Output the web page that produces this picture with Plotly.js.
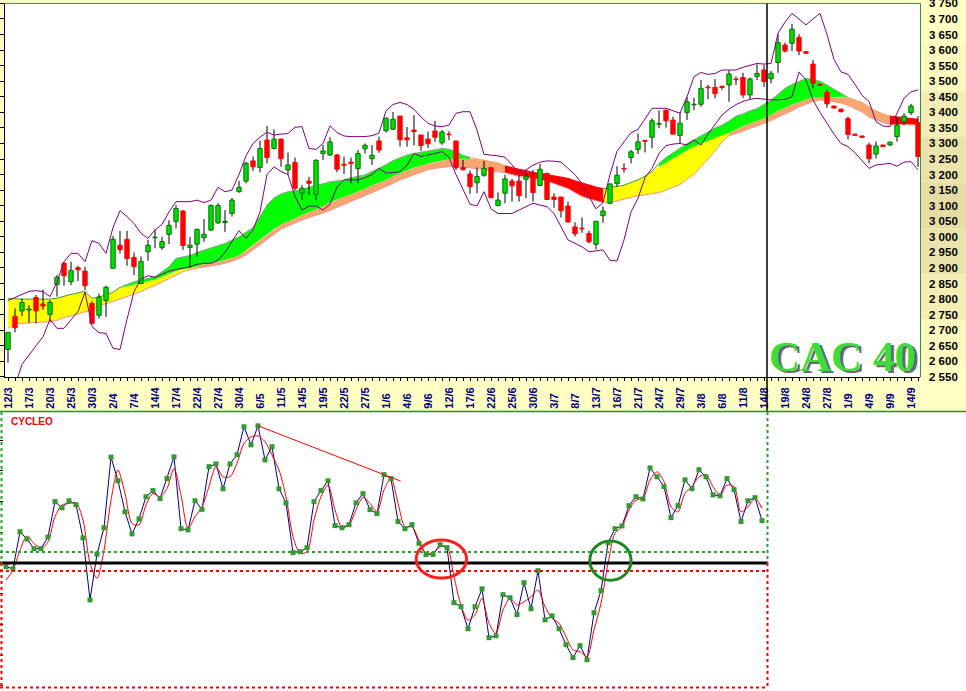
<!DOCTYPE html>
<html><head><meta charset="utf-8">
<script src="https://cdn.plot.ly/plotly-3.0.1.min.js"></script>
<style>html,body{margin:0;padding:0;background:#fff;}#chart{width:966px;height:691px;}</style>
</head><body><div id="chart"></div>
<script>
// ---------------- DATA ----------------
const dateLabels = ['12/3','17/3','20/3','25/3','30/3','2/4','7/4','14/4','17/4','22/4','27/4','30/4','6/5','11/5','14/5','19/5','22/5','27/5','1/6','4/6','9/6','12/6','17/6','22/6','25/6','30/6','3/7','8/7','13/7','16/7','21/7','24/7','29/7','3/8','6/8','11/8','14/8','19/8','24/8','27/8','1/9','4/9','9/9','14/9'];
const dateLabelDay = [0,3,6,9,12,15,18,21,24,27,30,33,36,39,42,45,48,51,54,57,60,63,66,69,72,75,78,81,84,87,90,93,96,99,102,105,108,111,114,117,120,123,126,129];
const yTickValues = [2550,2600,2650,2700,2750,2800,2850,2900,2950,3000,3050,3100,3150,3200,3250,3300,3350,3400,3450,3500,3550,3600,3650,3700,3750];
const yTickLabels = ['2 550','2 600','2 650','2 700','2 750','2 800','2 850','2 900','2 950','3 000','3 050','3 100','3 150','3 200','3 250','3 300','3 350','3 400','3 450','3 500','3 550','3 600','3 650','3 700','3 750'];

const openP = [2638,2745,2762,2765,2805,2784,2751,2847,2915,2856, 2901,2890,2786,2748,2795,2899,2973,2992,2934,2850, 2952,2997,2965,3008,3049,3083,2966,2976,2997,3022, 3045,3046,3075,3145,3179,3244,3223,3311,3284,3314, 3215,3239,3140,3179,3136,3268,3263,3263,3233,3240, 3219,3283,3251,3308,3341,3346,3388,3318,3343,3327, 3314,3340,3302,3330,3308,3223,3202,3174,3198,3222, 3100,3140,3179,3179,3185,3199,3165,3204,3128,3128, 3099,3032,3028,3011,2976,3068,3108,3171,3220,3255, 3281,3310,3320,3362,3407,3375,3326,3399,3424,3426, 3481,3480,3484,3488,3507,3512,3456,3515,3536,3508, 3560,3616,3622,3641,3595,3555,3490,3464,3420,3410, 3380,3330,3324,3295,3266,3295,3295,3322,3370,3399,3367];
const highP = [2693,2770,2802,2781,2813,2831,2797,2877,2920,2920, 2907,2904,2794,2818,2843,3003,3019,3019,2950,2937, 2990,3024,3000,3054,3102,3086,3000,3027,3057,3104, 3108,3086,3125,3180,3241,3258,3309,3356,3345,3316, 3271,3255,3166,3193,3249,3295,3320,3266,3258,3255, 3279,3300,3295,3322,3384,3401,3388,3353,3391,3327, 3338,3372,3343,3339,3308,3247,3213,3223,3244,3223, 3143,3199,3186,3199,3206,3215,3234,3204,3140,3128, 3113,3047,3062,3020,3050,3097,3172,3227,3236,3279, 3332,3311,3381,3406,3407,3386,3399,3450,3447,3504, 3488,3507,3485,3536,3515,3527,3512,3554,3552,3533, 3651,3624,3684,3651,3597,3568,3492,3472,3422,3412, 3386,3331,3325,3302,3306,3296,3306,3386,3397,3427,3388];
const lowP = [2596,2693,2745,2724,2722,2765,2727,2808,2843,2845, 2858,2829,2722,2738,2743,2899,2947,2907,2877,2850, 2923,2963,2958,2977,3027,2958,2901,2936,2984,3019, 3041,3016,3065,3142,3172,3212,3207,3236,3281,3225, 3199,3150,3118,3134,3118,3247,3260,3208,3202,3172, 3172,3268,3231,3270,3335,3343,3290,3290,3294,3276, 3285,3305,3296,3311,3215,3213,3138,3140,3193,3124, 3100,3108,3113,3113,3124,3113,3163,3120,3094,3062, 3045,3001,3013,2979,2960,3045,3105,3161,3206,3236, 3266,3271,3284,3349,3351,3330,3300,3375,3407,3418, 3442,3445,3472,3434,3488,3447,3442,3504,3482,3493, 3527,3592,3597,3584,3588,3477,3485,3415,3412,3400, 3313,3325,3319,3236,3252,3289,3293,3306,3359,3391,3225];
const closeP = [2693,2708,2789,2768,2762,2778,2790,2870,2875,2892, 2894,2843,2722,2806,2838,2992,2959,2930,2904,2921, 2973,2999,2985,3037,3091,2972,2973,3024,3008,3101, 3101,3050,3118,3159,3236,3225,3284,3255,3314,3251, 3231,3156,3156,3172,3246,3276,3305,3217,3230,3236, 3268,3294,3262,3279,3381,3378,3312,3312,3338,3293, 3299,3320,3337,3328,3222,3216,3161,3194,3220,3126, 3118,3186,3164,3132,3194,3142,3217,3120,3120,3084, 3048,3010,3026,2984,3050,3083,3170,3198,3218,3273, 3305,3307,3373,3364,3373,3330,3365,3434,3426,3477, 3479,3460,3480,3523,3505,3456,3507,3525,3499,3525, 3624,3597,3667,3597,3590,3493,3487,3427,3414,3402, 3329,3326,3320,3251,3292,3290,3304,3359,3388,3420,3258];

const bollUpper = [2795,2804,2815,2825,2827,2824,2808,2855,2920,2947, 2947,2920,2988,2979,2947,3030,3084,3065,3043,3011, 2995,3022,3040,3080,3113,3113,3113,3118,3110,3118, 3159,3145,3150,3200,3260,3300,3320,3336,3327,3330, 3332,3352,3354,3284,3281,3300,3357,3335,3324,3322, 3322,3322,3325,3333,3405,3425,3432,3425,3410,3385, 3365,3356,3354,3359,3397,3402,3402,3343,3265,3263, 3260,3256,3230,3206,3215,3230,3240,3244,3243,3240, 3220,3200,3170,3130,3090,3110,3200,3275,3305,3335, 3345,3380,3413,3413,3413,3405,3397,3450,3515,3528, 3522,3525,3536,3536,3536,3545,3552,3557,3555,3557, 3654,3690,3718,3700,3681,3700,3718,3650,3570,3530, 3522,3490,3455,3435,3370,3356,3354,3397,3445,3466,3472];
const bollLower = [2470,2520,2590,2622,2650,2679,2735,2706,2706,2733, 2760,2822,2712,2692,2690,2642,2638,2735,2824,2865, 2875,2870,2880,2890,2895,2900,2904,2912,2915,2915, 2925,2950,2985,3020,2995,3022,3080,3200,3225,3210, 3200,3130,3086,3099,3099,3086,3105,3160,3183,3183, 3183,3190,3200,3220,3205,3207,3209,3230,3268,3258, 3262,3268,3274,3255,3200,3150,3105,3099,3145,3090, 3075,3075,3075,3086,3097,3108,3102,3097,3075,3030, 2990,2979,2968,2952,2955,2958,2925,2922,2990,3080, 3124,3190,3220,3268,3293,3298,3300,3295,3311,3295, 3330,3360,3391,3410,3425,3435,3442,3445,3442,3440, 3440,3442,3450,3530,3504,3440,3400,3365,3330,3300, 3290,3270,3245,3220,3231,3234,3236,3227,3240,3242,3215];

const cloudTop = [2802,2800,2800,2800,2800,2800,2800,2803,2810,2815, 2820,2825,2802,2808,2813,2822,2838,2847,2856,2861, 2866,2872,2888,2904,2931,2936,2940,2950,2957,2963, 2970,2979,2990,3000,3015,3030,3065,3102,3125,3138, 3145,3148,3152,3159,3165,3170,3177,3180,3183,3190, 3195,3199,3210,3220,3232,3245,3255,3263,3268,3272, 3277,3280,3284,3281,3274,3262,3255,3250,3246,3242, 3238,3228,3222,3217,3213,3207,3204,3200,3197,3192, 3188,3180,3173,3165,3160,3155,3158,3162,3166,3175, 3183,3195,3210,3236,3255,3270,3285,3300,3312,3325, 3338,3350,3359,3372,3388,3395,3405,3412,3425,3440, 3458,3477,3490,3500,3509,3506,3500,3488,3475,3460, 3448,3440,3432,3418,3405,3395,3388,3386,3384,3382,3378];
const cloudMid = [2802,2800,2800,2800,2800,2800,2800,2803,2810,2815, 2820,2825,2802,2808,2813,2822,2836,2842,2848,2852, 2857,2862,2872,2880,2890,2896,2899,2905,2912,2916, 2920,2925,2932,2940,2955,2972,2990,3008,3025,3040, 3050,3060,3070,3080,3090,3098,3110,3120,3129,3137, 3145,3155,3166,3175,3183,3195,3204,3213,3223,3230, 3236,3241,3246,3249,3252,3252,3250,3250,3246,3242, 3238,3228,3222,3217,3213,3207,3204,3200,3197,3192, 3188,3180,3173,3165,3160,3155,3158,3162,3166,3175, 3183,3195,3210,3225,3238,3250,3265,3278,3290,3300, 3308,3318,3327,3334,3345,3355,3365,3372,3380,3392, 3405,3415,3425,3434,3442,3448,3450,3450,3450,3450, 3448,3440,3432,3418,3405,3395,3388,3386,3384,3382,3378];
const cloudBot = [2706,2720,2722,2724,2725,2726,2727,2732,2740,2746, 2752,2758,2765,2778,2786,2794,2800,2808,2815,2825, 2834,2843,2855,2866,2876,2888,2895,2900,2904,2906, 2910,2915,2922,2930,2942,2958,2975,2990,3008,3025, 3035,3045,3054,3062,3070,3076,3085,3095,3104,3114, 3124,3133,3142,3152,3161,3172,3183,3191,3199,3208, 3216,3220,3224,3226,3228,3225,3222,3220,3217,3214, 3210,3206,3200,3194,3191,3188,3184,3179,3172,3163, 3155,3142,3130,3122,3116,3110,3110,3116,3120,3127, 3132,3135,3138,3142,3150,3160,3168,3185,3200,3225, 3250,3275,3305,3325,3332,3340,3348,3357,3365,3373, 3385,3395,3405,3418,3427,3435,3440,3438,3434,3430, 3423,3412,3402,3385,3375,3367,3360,3360,3362,3362,3360];
// cloud regimes: Y = yellow band, GY = green over yellow, GS = green over salmon, S = salmon, R = red
const regimeStart = [0,16,27,66,71,85,93,103,120,126];
const regimeType  = ['Y','GY','GS','S','R','Y','GY','GS','S','R'];

// CYCLEO oscillator (one value per trading day, up to 14/8)
const cycleo = [-1.2,-1.85,10.2,7.8,4.7,4.7,8.5,20,18,20.3, 19,8.2,-12,2.9,11.5,34.5,26.8,16.7,9.5,14.4, 21.6,23.6,21,27.5,34.6,11.2,10.8,20.3,17.5,31.4, 32.3,24.2,32.3,35.3,44.4,38.5,44.7,33.6,37.9,24.2, 19.6,3.4,3.7,5.0,20,23.6,26.8,12.2,11.5,12.5, 19.6,22.6,17.4,16.1,28.8,27.5,13.5,11.2,12.5,6.4, 2.8,2.8,6.0,5.0,-12.9,-14.2,-21.4,-14.2,-8.4,-24.3, -23.7,-10.3,-11.3,-16.8,-6.4,-14.9,-2.5,-18.5,-17.2,-21.4, -26.6,-30.8,-26.9,-31.5,-16.2,-9.0,6.6,11.2,12.1,18.7, 21.6,20.9,31.0,28.1,24.9,14.8,18.7,27.1,24.2,30.4, 28.1,22.2,21.9,27.5,23.9,13.5,20.3,21.3,13.8];
const cycleoSignal = [-5.5,-2.3,4.2,8.8,6.4,4.8,6.9,15.1,18.9,19.4, 19.6,14,0,-5,4.2,20.5,30.3,22.7,12.9,12.4, 18.9,22.7,21.6,24.3,30.8,22.1,11.3,15.1,18.3,24.9, 31.4,28.1,28.1,32.5,39,41.1,41.4,39.5,35.2,30.3, 21.6,8.6,3.2,3.7,14,21.6,25.4,17.3,11.6,12.4, 17.3,21.4,19.4,16.7,23.8,27.6,19.5,11.8,11.8,7.5, 3.2,3.2,5.3,5.3,-4.5,-13.7,-18.6,-16.9,-11.5,-19.6, -22.9,-15.3,-11.5,-13.7,-12.6,-11,-8.8,-14.2,-18,-19.6, -24,-28.3,-28.9,-30.5,-21.8,-13.1,-0.1,9.7,11.8,17.3, 20.5,21.1,27,29.7,26.5,18.3,16.7,22.7,24.9,28.1, 28.7,24.9,22.1,25.4,24.9,16.7,18.3,21.1,17.8];
const upperThreshold = 3.6;
const lowerThreshold = -2.6;
const trendAnchors = [36, 54];   // peaks joined by the drawn resistance line
const trendEndDay = 56.4;
const sellCircle = [58.6, 65.8, -4.9, 7.5];  // day range, value range
const buyCircle  = [83.4, 89.3, -5.6, 7.2];
const markerDayLabel = '14/8';

// ---------------- BUILD ----------------
const W = 966, H = 691;
const px = p => p / W, py = p => 1 - p / H;
const days = openP.map((_, i) => i);
const traces = [];

// Cloud (base subplot)
const fillColor = {Y:'#FFFF00', S:'#F6A66E', R:'#FF0000'};
const topLineColor = {Y:'#3E9E3E', GY:'#9A9A9A', GS:'#9A9A9A', S:'#F6A66E', R:'#FF0000'};
for (let r = 0; r < regimeStart.length; r++) {
  const s = regimeStart[r];
  const e = r + 1 < regimeStart.length ? regimeStart[r + 1] : days.length - 1;
  const xs = [], xsRev = [];
  for (let i = s; i <= e; i++) xs.push(i);
  for (let i = e; i >= s; i--) xsRev.push(i);
  const t = regimeType[r];
  const lowerCol = t === 'GY' ? fillColor.Y : t === 'GS' ? fillColor.S : fillColor[t];
  traces.push({type:'scatter', mode:'lines', x: xs.concat(xsRev),
    y: xs.map(i => cloudMid[i]).concat(xsRev.map(i => cloudBot[i])),
    fill:'toself', fillcolor: lowerCol, line:{width:0}, hoverinfo:'skip', xaxis:'x', yaxis:'y'});
  if (t === 'GY' || t === 'GS') {
    traces.push({type:'scatter', mode:'lines', x: xs.concat(xsRev),
      y: xs.map(i => cloudTop[i]).concat(xsRev.map(i => cloudMid[i])),
      fill:'toself', fillcolor:'#00FF00', line:{width:0}, hoverinfo:'skip', xaxis:'x', yaxis:'y'});
  }
  traces.push({type:'scatter', mode:'lines', x: xs, y: xs.map(i => cloudTop[i]),
    line:{color: topLineColor[t], width:1}, hoverinfo:'skip', xaxis:'x', yaxis:'y'});
}
traces.push({type:'scatter', mode:'lines', x: days, y: cloudBot,
  line:{color:'#FF8C8C', width:1}, hoverinfo:'skip', xaxis:'x', yaxis:'y'});

// Wicks (overlay y3)
const wx = [], wy = [];
days.forEach(i => { wx.push(i, i, null); wy.push(lowP[i], highP[i], null); });
traces.push({type:'scatter', mode:'lines', x: wx, y: wy, line:{color:'#000000', width:1},
  hoverinfo:'skip', xaxis:'x', yaxis:'y3'});

// Bodies (overlay y4)
const upIdx = days.filter(i => closeP[i] >= openP[i]);
const dnIdx = days.filter(i => closeP[i] < openP[i]);
traces.push({type:'bar', x: upIdx, base: upIdx.map(i => openP[i]), y: upIdx.map(i => closeP[i] - openP[i]),
  width: 0.62, marker:{color:'#00E000', line:{color:'#007000', width:1}}, hoverinfo:'skip', xaxis:'x', yaxis:'y4'});
traces.push({type:'bar', x: dnIdx, base: dnIdx.map(i => closeP[i]), y: dnIdx.map(i => openP[i] - closeP[i]),
  width: 0.62, marker:{color:'#FF0000', line:{color:'#FF0000', width:1}}, hoverinfo:'skip', xaxis:'x', yaxis:'y4'});

// Bollinger envelopes
traces.push({type:'scatter', mode:'lines', x: days, y: bollUpper, line:{color:'#800080', width:1}, hoverinfo:'skip', xaxis:'x', yaxis:'y4'});
traces.push({type:'scatter', mode:'lines', x: days, y: bollLower, line:{color:'#800080', width:1}, hoverinfo:'skip', xaxis:'x', yaxis:'y4'});

// Oscillator panel
const k = cycleo.map((_, i) => i);
traces.push({type:'scatter', mode:'lines', x: k, y: cycleo, line:{color:'#000080', width:1}, hoverinfo:'skip', xaxis:'x2', yaxis:'y2'});
traces.push({type:'scatter', mode:'lines', x: k, y: cycleoSignal, line:{color:'#FF0000', width:1, shape:'spline', smoothing:0.8}, hoverinfo:'skip', xaxis:'x2', yaxis:'y2'});
traces.push({type:'scatter', mode:'markers', x: k, y: cycleo, marker:{symbol:'square', size:5, color:'#339933'}, hoverinfo:'skip', xaxis:'x2', yaxis:'y2'});
const slope = (cycleo[trendAnchors[1]] - cycleo[trendAnchors[0]]) / (trendAnchors[1] - trendAnchors[0]);
traces.push({type:'scatter', mode:'lines', x:[trendAnchors[0], trendEndDay],
  y:[cycleo[trendAnchors[0]], cycleo[trendAnchors[0]] + slope * (trendEndDay - trendAnchors[0])],
  line:{color:'#FF0000', width:1}, hoverinfo:'skip', xaxis:'x2', yaxis:'y2'});

// ---------------- LAYOUT ----------------
const fontB = (size, color) => ({family:'Liberation Sans, Arial, sans-serif', size, color, weight:700});
const tickText = dateLabels.map(s => s.length < 4 ? s + '\u2007' : s);
const markerDay = dateLabelDay[dateLabels.indexOf(markerDayLabel)] + 0.43;

const shapes = [];
// white lower area
shapes.push({type:'rect', xref:'paper', yref:'paper', x0:0, x1:1, y0:0, y1:py(411), fillcolor:'#FFFFFF', line:{width:0}, layer:'below'});
// label column shading
const bandCols = ['#FFFFC4','#FBF8C0','#F3EDB6','#EBE3AC','#E6DDA6','#EBE3AC','#F3EDB6','#FBF8C0','#FFFFC4'];
bandCols.forEach((c, j) => {
  shapes.push({type:'rect', xref:'paper', yref:'paper', x0:px(921), x1:1, y0:py(411 * (j + 1) / bandCols.length), y1:py(411 * j / bandCols.length), fillcolor:c, line:{width:0}, layer:'below'});
});
// frame lines of main panel
shapes.push({type:'line', xref:'paper', yref:'paper', x0:px(4), x1:px(920.5), y0:py(3.4), y1:py(3.4), line:{color:'#3C8C3C', width:1}});
shapes.push({type:'line', xref:'paper', yref:'paper', x0:px(920.5), x1:px(920.5), y0:py(3.4), y1:py(377), line:{color:'#3C8C3C', width:1}});
// vertical marker line
shapes.push({type:'line', xref:'x', yref:'paper', x0:markerDay, x1:markerDay, y0:py(411), y1:py(3.4), line:{color:'#000000', width:1.5}});
// lower panel frame
shapes.push({type:'line', xref:'paper', yref:'paper', x0:0, x1:1, y0:py(411.5), y1:py(411.5), line:{color:'#2E8B2E', width:1.5}});
shapes.push({type:'line', xref:'paper', yref:'y2', x0:0, x1:px(768), y0:0, y1:0, line:{color:'#000000', width:3}});
shapes.push({type:'line', xref:'paper', yref:'y2', x0:0, x1:px(768), y0:upperThreshold, y1:upperThreshold, line:{color:'#2E9E2E', width:2, dash:'dot'}});
shapes.push({type:'line', xref:'paper', yref:'y2', x0:0, x1:px(768), y0:lowerThreshold, y1:lowerThreshold, line:{color:'#FF0000', width:2, dash:'dot'}});
[1.5, 767.5].forEach(xp => {
  shapes.push({type:'line', xref:'paper', yref:'paper', x0:px(xp), x1:px(xp), y0:py(412), y1:py(563), line:{color:'#2E9E2E', width:2, dash:'dot'}});
  shapes.push({type:'line', xref:'paper', yref:'paper', x0:px(xp), x1:px(xp), y0:py(563), y1:py(688), line:{color:'#FF0000', width:2, dash:'dot'}});
});
shapes.push({type:'line', xref:'paper', yref:'paper', x0:0, x1:px(768), y0:py(687.5), y1:py(687.5), line:{color:'#FF0000', width:2, dash:'dot'}});
shapes.push({type:'circle', xref:'x2', yref:'y2', x0:sellCircle[0], x1:sellCircle[1], y0:sellCircle[2], y1:sellCircle[3], line:{color:'#FF1E1E', width:3}});
shapes.push({type:'circle', xref:'x2', yref:'y2', x0:buyCircle[0], x1:buyCircle[1], y0:buyCircle[2], y1:buyCircle[3], line:{color:'#1A8A1A', width:3}});

const annotations = [
  {xref:'paper', yref:'paper', x:px(842), y:py(356), text:'CAC 40', showarrow:false, xanchor:'center', yanchor:'middle',
   font:{family:'Liberation Serif, Times New Roman, serif', size:43, color:'#3CDC3C', weight:700, shadow:'3px 2px 0px #6A6A6A'}},
  {xref:'paper', yref:'paper', x:px(9), y:py(421), text:'CYCLEO', showarrow:false, xanchor:'left', yanchor:'middle',
   font:fontB(10, '#FF0000')}
];

const yRange = [yTickValues[0], yTickValues[yTickValues.length - 1]];
const layout = {
  width: W, height: H, margin:{l:0, r:0, t:0, b:0},
  paper_bgcolor:'#FFFFC4', plot_bgcolor:'#FFFFFF', showlegend:false, barmode:'overlay',
  xaxis:{domain:[px(5), px(920)], range:[-3/7, 912/7], anchor:'y', tickmode:'array', tickvals:dateLabelDay, ticktext:tickText,
    tickangle:-90, ticks:'outside', ticklen:3, tickcolor:'#000', showline:true, linecolor:'#000', linewidth:1,
    showgrid:false, zeroline:false, tickfont:fontB(11, '#000080'), ticklabelstandoff:2, ticklabeloverflow:'allow',
    minor:{ticks:'outside', ticklen:3, tickcolor:'#000', dtick:1, tick0:0, showgrid:false}, fixedrange:true},
  yaxis:{domain:[py(376.9), py(3.4)], range:yRange, anchor:'x', side:'left', tickmode:'array', tickvals:yTickValues,
    ticks:'outside', ticklen:4, tickcolor:'#000', showticklabels:false, showline:true, linecolor:'#000',
    showgrid:false, zeroline:false, fixedrange:true},
  yaxis3:{overlaying:'y', range:yRange, visible:false, fixedrange:true},
  yaxis4:{overlaying:'y', side:'right', anchor:'x', range:yRange, tickmode:'array', tickvals:yTickValues, ticktext:yTickLabels,
    ticks:'', showline:false, showgrid:false, zeroline:false, tickfont:fontB(11.5, '#000000'), ticklabelstandoff:8,
    ticklabeloverflow:'allow', fixedrange:true},
  xaxis2:{domain:[0, px(768)], range:[-6/7, 762/7], anchor:'y2', visible:false, fixedrange:true},
  yaxis2:{domain:[py(688), py(412)], range:[-40.7, 49.2], anchor:'x2', tickmode:'array',
    tickvals:[-40,-30,-20,-10,10,20,30,40], ticks:'inside', ticklen:3, tickcolor:'#000', showticklabels:false,
    showline:false, showgrid:false, zeroline:false, fixedrange:true},
  shapes, annotations
};
Plotly.newPlot('chart', traces, layout, {staticPlot:true, displayModeBar:false});
</script></body></html>
